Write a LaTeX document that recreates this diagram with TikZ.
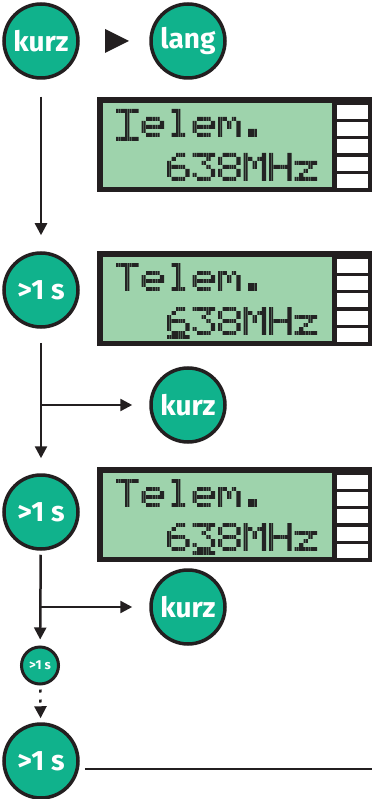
\documentclass[tikz,border=0pt]{standalone}
\usepackage{fontspec}
\newfontfamily\labelfont{Fira Sans}
\usetikzlibrary{arrows.meta}

\definecolor{ink}{RGB}{35,31,32}
\definecolor{keygreen}{RGB}{16,178,140}
\definecolor{lcdgreen}{RGB}{158,211,172}
\definecolor{lcdpixel}{RGB}{35,35,35}

\tikzset{
  key/.style={circle, draw=ink, line width=3.5pt, fill=keygreen,
    minimum size=74pt, inner sep=0pt, text=white,
    font=\labelfont\bfseries\fontsize{28}{28}\selectfont},
  smallkey/.style={key, minimum size=37pt, line width=3pt,
    font=\labelfont\bfseries\fontsize{13}{13}\selectfont},
  flow/.style={draw=ink, line width=2.5pt, -{Triangle[length=12pt,width=12pt]}},
  plain/.style={draw=ink, line width=2.5pt},
  lcddot/.style={fill=lcdpixel},
}

% 5x7 dot-matrix glyphs, pixels given as column/row
\def\gT{1/1,2/1,3/1,4/1,5/1,3/2,3/3,3/4,3/5,3/6,3/7}
\def\ge{2/3,3/3,4/3,1/4,5/4,1/5,2/5,3/5,4/5,5/5,1/6,2/7,3/7,4/7}
\def\gl{2/1,3/1,3/2,3/3,3/4,3/5,3/6,2/7,3/7,4/7}
\def\gm{1/3,2/3,4/3,1/4,3/4,5/4,1/5,3/5,5/5,1/6,5/6,1/7,5/7}
\def\gdot{2/6,3/6,2/7,3/7}
\def\gsix{3/1,4/1,2/2,1/3,1/4,2/4,3/4,4/4,1/5,5/5,1/6,5/6,2/7,3/7,4/7}
\def\gthree{1/1,2/1,3/1,4/1,5/1,4/2,3/3,4/4,5/5,1/6,5/6,2/7,3/7,4/7}
\def\geight{2/1,3/1,4/1,1/2,5/2,1/3,5/3,2/4,3/4,4/4,1/5,5/5,1/6,5/6,2/7,3/7,4/7}
\def\gM{1/1,5/1,1/2,2/2,4/2,5/2,1/3,3/3,5/3,1/4,3/4,5/4,1/5,5/5,1/6,5/6,1/7,5/7}
\def\gH{1/1,1/2,1/3,1/4,1/5,1/6,1/7,5/1,5/2,5/3,5/4,5/5,5/6,5/7,2/4,3/4,4/4}
\def\gz{1/3,2/3,3/3,4/3,5/3,4/4,3/5,2/6,1/7,2/7,3/7,4/7,5/7}
\def\gcursor{1/8,2/8,3/8,4/8,5/8}

% one glyph: every pixel is a 2x2 cluster of fine dots
\newcommand\glyph[3]{%
  \fill[lcddot] \foreach \c/\r in #3 {
    ({#1+(\c-1)*4.6},{#2+(\r-1)*4.0}) rectangle ++(1.9,1.8)
    ({#1+(\c-1)*4.6+2.3},{#2+(\r-1)*4.0}) rectangle ++(1.9,1.8)
    ({#1+(\c-1)*4.6},{#2+(\r-1)*4.0+2.0}) rectangle ++(1.9,1.8)
    ({#1+(\c-1)*4.6+2.3},{#2+(\r-1)*4.0+2.0}) rectangle ++(1.9,1.8)
  };
}

% display frame with side indicators and the two text lines
\newcommand\lcdscreen{%
  \fill[ink] (97,0) rectangle (372,95);
  \fill[lcdgreen] (103,6) rectangle (332,90);
  \foreach \i in {0,...,4}
    \fill[white] (337,{8+17.2*\i}) rectangle (368,{22+17.2*\i});
  \glyph{116}{12}{\gT}
  \glyph{141.5}{12}{\ge}
  \glyph{167}{12}{\gl}
  \glyph{192.5}{12}{\ge}
  \glyph{218}{12}{\gm}
  \glyph{243.5}{12}{\gdot}
  \glyph{167}{56}{\gsix}
  \glyph{192.5}{56}{\gthree}
  \glyph{218}{56}{\geight}
  \glyph{243.5}{56}{\gM}
  \glyph{269}{56}{\gH}
  \glyph{294.5}{56}{\gz}
}

\begin{document}
\begin{tikzpicture}[x=1pt,y=-1pt]
  \useasboundingbox (0,0) rectangle (372,799);

  % key presses
  \node[key] (kurzA) at (41,41) {kurz};
  \node[key] (lang) at (188,41) {lang};
  \fill[ink] (105,29) -- (129,41) -- (105,53) -- cycle;

  \node[key] (s1) at (41,290) {>1 s};
  \node[key] (kurzB) at (188,405) {kurz};
  \node[key] (s2) at (41,512) {>1 s};
  \node[key] (kurzC) at (188,607) {kurz};
  \node[smallkey] (s3) at (40,665.5) {>1 s};
  \node[key] (s4) at (41,761) {>1 s};
  \coordinate (rightend) at (372,769);

  % displays
  \begin{scope}[shift={(0,97)}]
    \lcdscreen
    \glyph{116}{12}{\gcursor}
  \end{scope}
  \begin{scope}[shift={(0,251)}]
    \lcdscreen
    \glyph{167}{56}{\gcursor}
  \end{scope}
  \begin{scope}[shift={(0,467)}]
    \lcdscreen
    \glyph{192.5}{56}{\gcursor}
  \end{scope}

  % sequence
  \draw[flow, shorten <=17pt, shorten >=16pt] (kurzA) -- (s1);
  \draw[flow, shorten <=14pt, shorten >=15pt] (s1) -- (s2);
  \draw[flow, shorten >=17pt] (s1 |- kurzB) -- (kurzB);
  \draw[flow, shorten <=4pt, shorten >=6pt] (s2) -- (s3);
  \draw[flow, shorten >=17pt] (s2 |- kurzC) -- (kurzC);
  \draw[flow, shorten <=4pt, shorten >=4pt, dash pattern=on 3pt off 7pt] (s3) -- (s4);
  \draw[plain, shorten <=5pt] (s4.east |- rightend) -- (rightend);
\end{tikzpicture}
\end{document}
